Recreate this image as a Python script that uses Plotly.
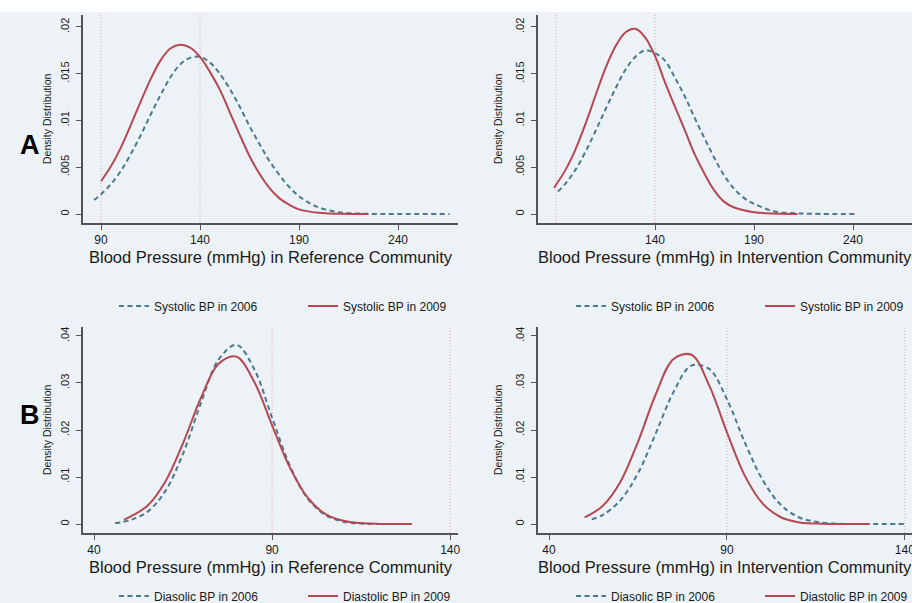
import plotly.graph_objects as go

# ---------------- data ----------------
# Panel A, reference community (systolic)
sys_ref_2006_x = [86.5, 90, 95, 100, 105, 110, 115, 120, 125, 130, 135, 140, 145, 150, 155, 160,
                  165, 170, 175, 180, 185, 190, 195, 200, 210, 220, 230, 245, 266]
sys_ref_2006_y = [0.0015, 0.0021, 0.0032, 0.0046, 0.0064, 0.0084, 0.0106, 0.0127, 0.0146, 0.0160,
                  0.0167, 0.0168, 0.0162, 0.0150, 0.0134, 0.0115, 0.0094, 0.0075, 0.0057, 0.0042,
                  0.0029, 0.0019, 0.0012, 0.0007, 0.0002, 0.00005, 0.0, 0.0, 0.0]
sys_ref_2009_x = [90, 95, 100, 105, 110, 115, 120, 125, 130, 135, 140, 145, 150, 155, 160, 165,
                  170, 175, 180, 185, 190, 200, 210, 225]
sys_ref_2009_y = [0.0035, 0.0051, 0.0071, 0.0095, 0.0120, 0.0144, 0.0164, 0.0177, 0.0181, 0.0178,
                  0.0168, 0.0152, 0.0133, 0.0109, 0.0085, 0.0062, 0.0043, 0.0028, 0.0017, 0.0010,
                  0.0005, 0.00013, 0.00003, 0.0]

# Panel A, intervention community (systolic)
sys_int_2006_x = [91, 95, 100, 105, 110, 115, 120, 125, 130, 135, 140, 145, 150, 155, 160, 165,
                  170, 175, 180, 185, 190, 200, 210, 220, 242]
sys_int_2006_y = [0.0024, 0.0033, 0.0048, 0.0067, 0.0089, 0.0112, 0.0134, 0.0154, 0.0168, 0.0175,
                  0.0172, 0.0164, 0.0146, 0.0126, 0.0103, 0.0081, 0.0060, 0.0041, 0.0027, 0.0017,
                  0.0011, 0.0003, 0.0001, 0.00002, 0.0]
sys_int_2009_x = [89, 95, 100, 105, 110, 115, 120, 125, 130, 135, 140, 145, 150, 155, 160, 165,
                  170, 175, 180, 190, 200, 212]
sys_int_2009_y = [0.0028, 0.0048, 0.0070, 0.0097, 0.0127, 0.0156, 0.0179, 0.0194, 0.0198, 0.0189,
                  0.0169, 0.0141, 0.0115, 0.0090, 0.0064, 0.0043, 0.0025, 0.0013, 0.0007, 0.0002,
                  0.00005, 0.0]

# Panel B, reference community (diastolic)
dia_ref_2006_x = [45.9, 50, 55, 60, 65, 70, 75, 80, 85, 90, 95, 100, 105, 110, 115, 120, 129]
dia_ref_2006_y = [0.0002, 0.0008, 0.0026, 0.0070, 0.0150, 0.0257, 0.0350, 0.0381, 0.0329, 0.0226,
                  0.0124, 0.0054, 0.0019, 0.0005, 0.0001, 0.00002, 0.0]
dia_ref_2009_x = [48.4, 55, 60, 65, 70, 75, 80, 85, 90, 95, 100, 105, 110, 115, 120, 129.3]
dia_ref_2009_y = [0.0009, 0.0039, 0.0090, 0.0172, 0.0268, 0.0341, 0.0356, 0.0302, 0.0210,
                  0.0120, 0.0056, 0.0021, 0.0007, 0.0002, 0.00004, 0.0]

# Panel B, intervention community (diastolic)
dia_int_2006_x = [52, 55, 60, 65, 70, 75, 80, 85, 90, 95, 100, 105, 110, 115, 120, 125, 130, 140]
dia_int_2006_y = [0.0010, 0.0019, 0.0050, 0.0108, 0.0193, 0.0281, 0.0337, 0.0330, 0.0265, 0.0174,
                  0.0094, 0.0042, 0.0015, 0.0005, 0.0001, 0.00002, 0.0, 0.0]
dia_int_2009_x = [50, 55, 60, 65, 70, 75, 80, 85, 90, 95, 100, 105, 110, 115, 120, 130]
dia_int_2009_y = [0.0014, 0.0038, 0.0089, 0.0175, 0.0276, 0.0351, 0.0360, 0.0295, 0.0195, 0.0103,
                  0.0044, 0.0015, 0.0004, 0.0001, 0.00002, 0.0]

ref_lines = [90, 140]

sys_xticks_left = [90, 140, 190, 240]
sys_xticks_right = [140, 190, 240]
dia_xticks = [40, 90, 140]
sys_yticks = [0, 0.005, 0.01, 0.015, 0.02]
sys_yticklabels = ["0", ".005", ".01", ".015", ".02"]
dia_yticks = [0, 0.01, 0.02, 0.03, 0.04]
dia_yticklabels = ["0", ".01", ".02", ".03", ".04"]

x_titles = ["Blood Pressure (mmHg) in Reference Community",
            "Blood Pressure (mmHg) in Intervention Community",
            "Blood Pressure (mmHg) in Reference Community",
            "Blood Pressure (mmHg) in Intervention Community"]
y_title = "Density Distribution"
legend_names = [("Systolic BP in 2006", "Systolic BP in 2009"),
                ("Systolic BP in 2006", "Systolic BP in 2009"),
                ("Diasolic BP in 2006", "Diastolic BP in 2009"),
                ("Diasolic BP in 2006", "Diastolic BP in 2009")]

# ---------------- styling ----------------
W, H = 912, 603
FONT = "Liberation Sans, Arial, sans-serif"
BG = "#ecf2f5"
C2006 = "#4b7990"
C2009 = "#b64753"
AXC = "#555555"
TXT = "#1a1a1a"
REFC = "rgba(215,140,155,0.75)"

fig = go.Figure()

panels = [
    (sys_ref_2006_x, sys_ref_2006_y, sys_ref_2009_x, sys_ref_2009_y, "x", "y", "legend"),
    (sys_int_2006_x, sys_int_2006_y, sys_int_2009_x, sys_int_2009_y, "x2", "y2", "legend2"),
    (dia_ref_2006_x, dia_ref_2006_y, dia_ref_2009_x, dia_ref_2009_y, "x3", "y3", "legend3"),
    (dia_int_2006_x, dia_int_2006_y, dia_int_2009_x, dia_int_2009_y, "x4", "y4", "legend4"),
]

for i, (x6, y6, x9, y9, xa, ya, lg) in enumerate(panels):
    n6, n9 = legend_names[i]
    fig.add_trace(go.Scatter(x=x6, y=y6, mode="lines", name=n6, xaxis=xa, yaxis=ya, legend=lg,
                             line=dict(color=C2006, width=2, dash="5px,3.5px", shape="spline")))
    fig.add_trace(go.Scatter(x=x9, y=y9, mode="lines", name=n9, xaxis=xa, yaxis=ya, legend=lg,
                             line=dict(color=C2009, width=2, shape="spline")))
    for v in ref_lines:
        fig.add_shape(type="line", xref=xa, yref=f"{ya} domain", x0=v, x1=v, y0=0, y1=1,
                      line=dict(color=REFC, width=1, dash="1px,2px"), layer="below")

# pixel-based domains
left_dom = [83 / W, 458 / W]
right_dom = [538 / W, 1.0]
top_dom = [1 - 223 / H, 1 - 15 / H]
bot_dom = [1 - 533 / H, 1 - 327 / H]


def xax(domain, rng, ticks, anchor):
    return dict(domain=domain, range=rng, tickvals=ticks, ticktext=[str(t) for t in ticks],
                anchor=anchor, automargin=False, showline=True, linecolor=AXC, linewidth=1.5,
                ticks="outside", ticklen=5, tickwidth=1.2, tickcolor=AXC, showgrid=False,
                zeroline=False, ticklabeloverflow="allow", ticklabelstandoff=0,
                tickfont=dict(size=12, color=TXT, family=FONT))


def yax(domain, rng, ticks, labels, anchor):
    return dict(domain=domain, range=rng, tickvals=ticks, ticktext=labels, anchor=anchor,
                automargin=False, showline=True, linecolor=AXC, linewidth=1.5, ticks="outside",
                ticklen=5, tickwidth=1.2, tickcolor=AXC, showgrid=False, zeroline=False,
                ticklabelstandoff=3, tickangle=-90, tickfont=dict(size=11, color=TXT, family=FONT))


def leg(x, y):
    return dict(x=x, y=y, xref="container", yref="container", xanchor="left", yanchor="middle",
                orientation="h", entrywidth=144, entrywidthmode="pixels",
                bgcolor="rgba(0,0,0,0)", font=dict(size=12, color=TXT, family=FONT),
                itemwidth=30, tracegroupgap=0)


fig.update_layout(
    template="none",
    width=W, height=H, margin=dict(l=0, r=0, t=0, b=0, autoexpand=False),
    paper_bgcolor=BG, plot_bgcolor=BG,
    font=dict(family=FONT),
    xaxis=xax(left_dom, [80.9, 270.3], sys_xticks_left, "y"),
    yaxis=yax(top_dom, [-0.00096, 0.02128], sys_yticks, sys_yticklabels, "x"),
    xaxis2=xax(right_dom, [80.9, 269.8], sys_xticks_right, "y2"),
    yaxis2=yax(top_dom, [-0.00096, 0.02128], sys_yticks, sys_yticklabels, "x2"),
    xaxis3=xax(left_dom, [36.9, 142.2], dia_xticks, "y3"),
    yaxis3=yax(bot_dom, [-0.0019, 0.0419], dia_yticks, dia_yticklabels, "x3"),
    xaxis4=xax(right_dom, [36.9, 142.0], dia_xticks, "y4"),
    yaxis4=yax(bot_dom, [-0.0019, 0.0419], dia_yticks, dia_yticklabels, "x4"),
    legend=leg(114 / W, 1 - 306 / H),
    legend2=leg(571 / W, 1 - 306 / H),
    legend3=leg(114 / W, 1 - 596 / H),
    legend4=leg(571 / W, 1 - 596 / H),
    showlegend=True,
)

# axis titles (as annotations, placed under / beside each panel)
x_title_pos = [((83 + 458) / 2 / W, 1 - 257 / H), ((538 + 912) / 2 / W, 1 - 257 / H),
               ((83 + 458) / 2 / W, 1 - 567 / H), ((538 + 912) / 2 / W, 1 - 567 / H)]
for t, (px, py) in zip(x_titles, x_title_pos):
    fig.add_annotation(text=t, xref="paper", yref="paper", x=px, y=py, xanchor="center",
                       yanchor="middle", showarrow=False,
                       font=dict(size=16.5, color=TXT, family=FONT))
y_title_pos = [(47 / W, sum(top_dom) / 2), (498 / W, sum(top_dom) / 2),
               (47 / W, sum(bot_dom) / 2), (498 / W, sum(bot_dom) / 2)]
for px, py in y_title_pos:
    fig.add_annotation(text=y_title, xref="paper", yref="paper", x=px, y=py, xanchor="center",
                       yanchor="middle", textangle=-90, showarrow=False,
                       font=dict(size=10.5, color=TXT, family=FONT))

# white strip at the very top of the image
fig.add_shape(type="rect", xref="paper", yref="paper", x0=0, x1=1, y0=1 - 12 / H, y1=1,
              fillcolor="white", line=dict(width=0), layer="below")

fig.add_annotation(text="<b>A</b>", xref="paper", yref="paper", x=18 / W, y=1 - 128 / H,
                   showarrow=False, font=dict(size=27, color="black", family=FONT))
fig.add_annotation(text="<b>B</b>", xref="paper", yref="paper", x=18 / W, y=1 - 432 / H,
                   showarrow=False, font=dict(size=27, color="black", family=FONT))

fig.write_html("out.html", config={"displayModeBar": False},
               post_script="document.body.style.margin='0px';")
